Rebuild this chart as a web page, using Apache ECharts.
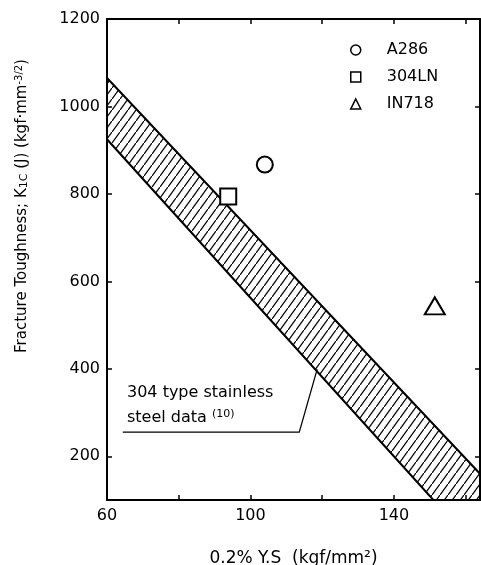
<!DOCTYPE html>
<html>
<head>
<meta charset="utf-8">
<script src="https://cdn.jsdelivr.net/npm/echarts@6/dist/echarts.min.js"></script>
<style>
  html, body { margin: 0; padding: 0; background: #fff; }
  #chart { width: 481px; height: 565px; }
</style>
</head>
<body>
<div id="chart"></div>
<script>
// axis ranges and tick values
const xRange = [60, 164];
const yRange = [100, 1200];
const xTicks = [60, 80, 100, 120, 140, 160];
const xLabels = [60, 100, 140];
const yTicks = [200, 400, 600, 800, 1000, 1200];

// materials: [yield strength, toughness]
const materials = ['A286', '304LN', 'IN718'];
const symbols = ['circle', 'rect', 'triangle'];
const points = [[104, 867], [93.8, 794], [151.4, 544]];

// 304 type stainless steel scatter band (outline vertices)
const bandOutline = [[60, 1065], [164, 160], [164, 100], [151, 100], [60, 925]];
// leader line from the note to the band
const leaderLine = [[64.4, 255], [113.6, 255], [118.6, 399]];

const font = 'DejaVu Sans';

function hatch() {
  const c = document.createElement('canvas');
  c.width = 8; c.height = 11;
  const ctx = c.getContext('2d');
  ctx.strokeStyle = '#000';
  ctx.lineWidth = 1.3;
  ctx.beginPath();
  ctx.moveTo(-8, 22); ctx.lineTo(16, -11);
  ctx.stroke();
  return c;
}

const chart = echarts.init(document.getElementById('chart'));

const axisCommon = {
  type: 'value',
  axisLine: { show: true, lineStyle: { color: '#000', width: 2 } },
  axisTick: { show: true, inside: true, length: 5, lineStyle: { color: '#000', width: 1.5 } },
  splitLine: { show: false }
};

const labelStyle = { fontFamily: font, fontSize: 16, color: '#000', formatter: v => String(v) };

const scatterSeries = materials.map((m, i) => ({
  name: m,
  type: 'scatter',
  symbol: symbols[i],
  symbolSize: i === 2 ? [20, 17] : 16,
  itemStyle: { color: '#fff', borderColor: '#000', borderWidth: 2, opacity: 1 },
  data: [points[i]],
  z: 5
}));

chart.setOption({
  animation: false,
  backgroundColor: '#fff',
  textStyle: { fontFamily: font, color: '#000' },
  grid: { left: 107, right: 1, top: 19, bottom: 65, outerBoundsMode: 'none', containLabel: false },
  legend: {
    orient: 'vertical',
    left: 345,
    top: 37,
    itemWidth: 10,
    itemHeight: 10,
    itemGap: 11,
    data: materials.map((m, i) => ({
      name: m,
      icon: symbols[i],
      itemStyle: { color: '#fff', borderColor: '#000', borderWidth: 1.5 }
    })),
    textStyle: { fontFamily: font, fontSize: 16, color: '#000', padding: [0, 0, 0, 21] }
  },
  xAxis: [
    Object.assign({}, axisCommon, {
      min: xRange[0], max: xRange[1],
      axisTick: Object.assign({}, axisCommon.axisTick, { customValues: xTicks }),
      axisLabel: Object.assign({ customValues: xLabels, margin: 8 }, labelStyle),
      name: '0.2% Y.S  (kgf/mm²)',
      nameLocation: 'middle',
      nameGap: 50,
      nameTextStyle: { fontFamily: font, fontSize: 17, color: '#000' }
    }),
    Object.assign({}, axisCommon, {
      position: 'top',
      min: xRange[0], max: xRange[1],
      axisTick: Object.assign({}, axisCommon.axisTick, { customValues: xTicks }),
      axisLabel: { show: false }
    })
  ],
  yAxis: [
    Object.assign({}, axisCommon, {
      min: yRange[0], max: yRange[1],
      axisTick: Object.assign({}, axisCommon.axisTick, { customValues: yTicks }),
      axisLabel: Object.assign({ customValues: yTicks, margin: 7 }, labelStyle)
    }),
    Object.assign({}, axisCommon, {
      position: 'right',
      min: yRange[0], max: yRange[1],
      axisTick: Object.assign({}, axisCommon.axisTick, { customValues: yTicks }),
      axisLabel: { show: false }
    })
  ],
  graphic: [
    {
      type: 'text',
      x: 22, y: 206,
      rotation: Math.PI / 2,
      style: {
        text: 'Fracture Toughness; K{sub|1C} (J) (kgf·mm{sup|-3/2})',
        fontFamily: font, fontSize: 15, fill: '#000',
        align: 'center', verticalAlign: 'middle',
        rich: {
          sub: { fontFamily: font, fontSize: 11, fill: '#000', verticalAlign: 'bottom' },
          sup: { fontFamily: font, fontSize: 10, fill: '#000', verticalAlign: 'top' }
        }
      }
    },
    {
      type: 'text',
      left: 127, top: 380,
      style: {
        text: '304 type stainless\nsteel data {sup|(10)}',
        fontFamily: font, fontSize: 16, fill: '#000', lineHeight: 25,
        rich: {
          sup: { fontFamily: font, fontSize: 11, fill: '#000', padding: [0, 0, 7, 0] }
        }
      }
    }
  ],
  series: [
    {
      type: 'custom',
      renderItem: (params, api) => {
        const pts = bandOutline.map(p => api.coord(p));
        return {
          type: 'polygon',
          shape: { points: pts },
          style: { fill: { image: hatch(), repeat: 'repeat' }, stroke: '#000', lineWidth: 2 }
        };
      },
      data: [0],
      silent: true,
      z: 2
    },
    {
      type: 'line',
      data: leaderLine,
      symbol: 'none',
      lineStyle: { color: '#000', width: 1.2 },
      silent: true,
      z: 3
    }
  ].concat(scatterSeries)
});
</script>
</body>
</html>
